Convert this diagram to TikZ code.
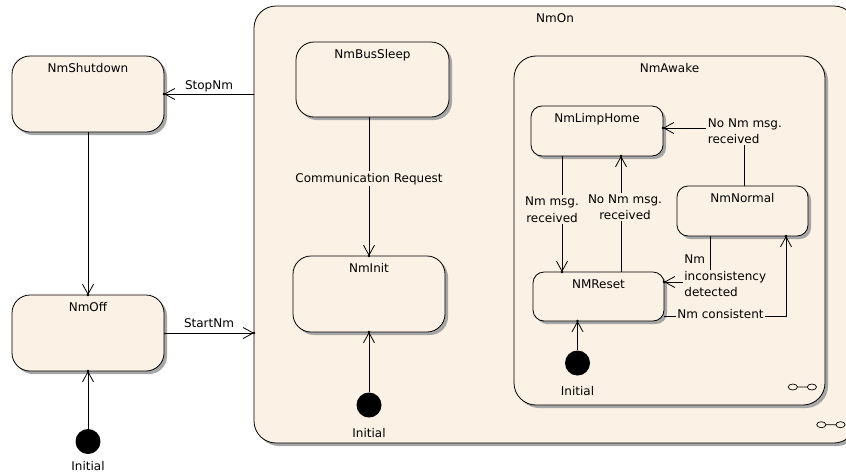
\documentclass[tikz,border=0pt]{standalone}
\usepackage{fontspec}
\setmainfont{DejaVu Sans}
\usetikzlibrary{arrows.meta,shadows,decorations.markings}
\definecolor{stfill}{RGB}{251,241,229}
% a text line with its own background, so a connector behind it is hidden
\newcommand\hidebox[1]{{\setlength\fboxsep{1.5pt}\hspace*{-1.5pt}\colorbox{stfill}{#1}}}
\begin{document}
\begin{tikzpicture}[x=1pt,y=-1pt,
  font=\fontsize{12}{16.5}\selectfont,
  stbox/.style={draw=black, line width=0.8pt, fill=stfill, rounded corners=#1,
    inner sep=0pt, outer sep=0pt,
    drop shadow={shadow xshift=3pt,shadow yshift=-3pt,fill=black!35,opacity=1}},
  stbox/.default=11pt,
  ttl/.style={label={[anchor=base,yshift=-16pt]north:#1}},
  startdot/.style={circle, fill=black, minimum size=25pt, inner sep=0pt,
    label={[anchor=base,inner sep=0pt,yshift=-#1]south:Initial}},
  startdot/.default=19.5pt,
  tr/.style={line width=0.8pt, -{Straight Barb[length=10pt,width=11pt]},
    postaction={decorate,decoration={markings,
      mark=at position 1 with {\fill (0,0) circle (1.4pt);}}}},
  elbl/.style={fill=stfill, inner sep=1.5pt, align=center},
]
\clip (0,0) rectangle (846,475);
\fill[white] (0,0) rectangle (846,475);

% composite state NmOn and its nested NmAwake
\node[stbox=22pt, minimum width=602pt, minimum height=437pt, ttl=NmOn] (nmon) at (555,224.5) {};
\node[stbox=22pt, minimum width=311pt, minimum height=349pt, ttl=NmAwake] (awake) at (669.5,230.5) {};

% top-level states
\node[stbox=18pt, minimum width=152pt, minimum height=76pt, ttl=NmShutdown] (shut) at (88,94) {};
\node[stbox=18pt, minimum width=152pt, minimum height=76pt, ttl=NmOff] (off) at (88,333) {};
\node[startdot=16.5pt] (ini1) at (88,441.5) {};

% states inside NmOn
\node[stbox=18pt, minimum width=153pt, minimum height=75pt, ttl=NmBusSleep] (bus) at (372.5,79.5) {};
\node[stbox=18pt, minimum width=152pt, minimum height=76pt, ttl=NmInit] (init) at (369,294) {};
\node[startdot] (ini2) at (369,405) {};

% states inside NmAwake
\node[stbox, minimum width=132pt, minimum height=50pt, ttl=NmLimpHome] (limp) at (597,131) {};
\node[stbox, minimum width=131pt, minimum height=50pt, ttl=NmNormal] (norm) at (742.5,211) {};
\node[stbox, minimum width=131pt, minimum height=49pt, ttl=NMReset] (reset) at (598.5,296.5) {};
\node[startdot] (ini3) at (577.5,363) {};

% composite-state markers
\draw[line width=0.7pt] (792.8,387) ellipse [x radius=4.6pt,y radius=3pt]
  (797.4,387) -- (807.3,387) (811.9,387) ellipse [x radius=4.6pt,y radius=3pt];
\draw[line width=0.7pt] (821.3,424.7) ellipse [x radius=4.6pt,y radius=3pt]
  (825.9,424.7) -- (835.9,424.7) (840.5,424.7) ellipse [x radius=4.6pt,y radius=3pt];

% transitions at top level
\draw[tr] (nmon.west |- shut.east) -- node[midway,anchor=base,yshift=5pt] {StopNm} (shut.east);
\draw[tr] (off.east) -- node[midway,anchor=base,yshift=5.5pt] {StartNm} (off.east -| nmon.west);
\draw[tr] (shut) -- (off);
\draw[tr] (ini1) -- (off);

% transitions inside NmOn
\draw[tr] (bus.south -| init.north) -- node[elbl,pos=0.468,anchor=base] {Communication Request} (init.north);
\draw[tr] (ini2) -- (init);

% transitions inside NmAwake
\draw[tr] ([xshift=-35pt]limp.south) --
  node[elbl,pos=0.461,xshift=-10pt] {Nm msg.\\received}
  ([xshift=-35pt]limp.south |- reset.north);
\draw[tr] ([xshift=22.5pt]reset.north) --
  node[elbl,pos=0.56,xshift=4pt] {No Nm msg.\\received}
  ([xshift=22.5pt]reset.north |- limp.south);
\draw[tr] ([xshift=1.5pt]norm.north) |-
  node[elbl,pos=0.5,anchor=west,xshift=-38pt,yshift=-3pt,align=left] {No Nm msg.\\received}
  ([yshift=3pt]limp.east);
\draw[tr] ([xshift=-32.5pt]norm.south) |-
  node[pos=0.5,anchor=west,xshift=-27pt,yshift=6pt,align=left,inner sep=1pt]
    {Nm\\\hidebox{inconsistency}\\detected}
  ([yshift=14.5pt]reset.east);
\draw[tr] ([yshift=-19.5pt]reset.east) -|
  node[elbl,pos=0.2316,yshift=2pt] {Nm consistent}
  ([xshift=43.5pt]norm.south);
\draw[tr] (ini3) -- (ini3 |- reset.south);
\end{tikzpicture}
\end{document}
